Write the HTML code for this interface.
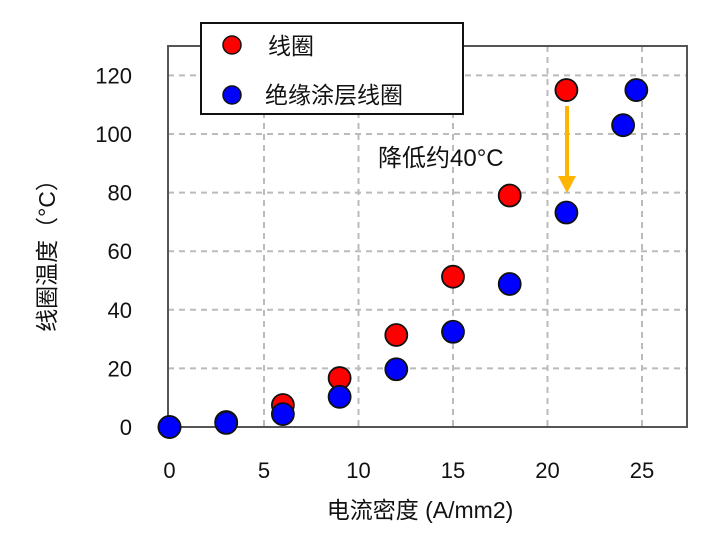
<!DOCTYPE html>
<html><head><meta charset="utf-8"><style>
body{margin:0;background:#fff}
svg{font-family:"Liberation Sans","Noto Sans CJK SC",sans-serif}
</style></head><body>
<svg id="chart" width="715" height="544" viewBox="0 0 715 544" xmlns="http://www.w3.org/2000/svg">
<g id="grid"></g>
<rect x="168" y="46" width="519" height="381" fill="none" stroke="#555" stroke-width="2"/>
<g id="ticks"></g>
<g id="points"></g>
<g>
<line x1="567" y1="106" x2="567" y2="178" stroke="#FFB400" stroke-width="4"/>
<polygon points="558,176 576,176 567,193" fill="#FFB400"/>
<text x="378" y="166" font-size="24" fill="#111">降低约40°C</text>
</g>
<g>
<rect x="201" y="23" width="262" height="91" fill="#fff" stroke="#111" stroke-width="2"/>
<circle cx="232" cy="45" r="9" fill="#f00" stroke="#111" stroke-width="1.5"/>
<text x="268" y="54" font-size="23" fill="#111">线圈</text>
<circle cx="232" cy="95" r="9" fill="#00f" stroke="#111" stroke-width="1.5"/>
<text x="265" y="103" font-size="23" fill="#111">绝缘涂层线圈</text>
</g>
<text x="420" y="518" font-size="23" text-anchor="middle" fill="#111">电流密度 (A/mm2)</text>
<text transform="translate(55,250) rotate(-90)" font-size="23" text-anchor="middle" fill="#111">线圈温度（°C）</text>
</svg>
<script>
const xTicks=[0,5,10,15,20,25];
const yTicks=[0,20,40,60,80,100,120];
const xCoil=[0,3,6,9,12,15,18,21];
const yCoil=[0,1.7,7.5,16.7,31.4,51.3,79,115];
const xCoated=[0,3,6,9,12,15,18,21,24,24.7];
const yCoated=[0,1.4,4.4,10.3,19.7,32.5,48.8,73.2,103,115];
const X=v=>169.5+v*18.9;
const Y=v=>427-v*2.93;
const NS="http://www.w3.org/2000/svg";
const grid=document.getElementById('grid'),ticks=document.getElementById('ticks'),pts=document.getElementById('points');
function mk(tag,attrs,parent){const e=document.createElementNS(NS,tag);for(const k in attrs)e.setAttribute(k,attrs[k]);parent.appendChild(e);return e;}
xTicks.forEach(t=>{
  if(t>0){const l=mk('line',{x1:X(t),x2:X(t),y1:46,y2:427,stroke:'#bbb','stroke-width':2,'stroke-dasharray':'6,5'},grid);
  
  }
  const tx=mk('text',{x:X(t),y:478,'font-size':22,'text-anchor':'middle',fill:'#111'},ticks);
  tx.textContent=t;
  
  
});
yTicks.forEach(t=>{
  if(t>0){const l=mk('line',{x1:168,x2:687,y1:Y(t),y2:Y(t),stroke:'#bbb','stroke-width':2,'stroke-dasharray':'6,5'},grid);
  
  }
  const tx=mk('text',{x:132,y:Y(t)+8,'font-size':22,'text-anchor':'end',fill:'#111'},ticks);
  tx.textContent=t;
  
  
});
xCoil.forEach((x,i)=>{
  const c=mk('circle',{cx:X(x),cy:Y(yCoil[i]),r:11,fill:'#f00',stroke:'#111','stroke-width':1.8},pts);
  
  
});
xCoated.forEach((x,i)=>{
  const c=mk('circle',{cx:X(x),cy:Y(yCoated[i]),r:11,fill:'#00f',stroke:'#111','stroke-width':1.8},pts);
  
  
});
</script>
</body></html>
